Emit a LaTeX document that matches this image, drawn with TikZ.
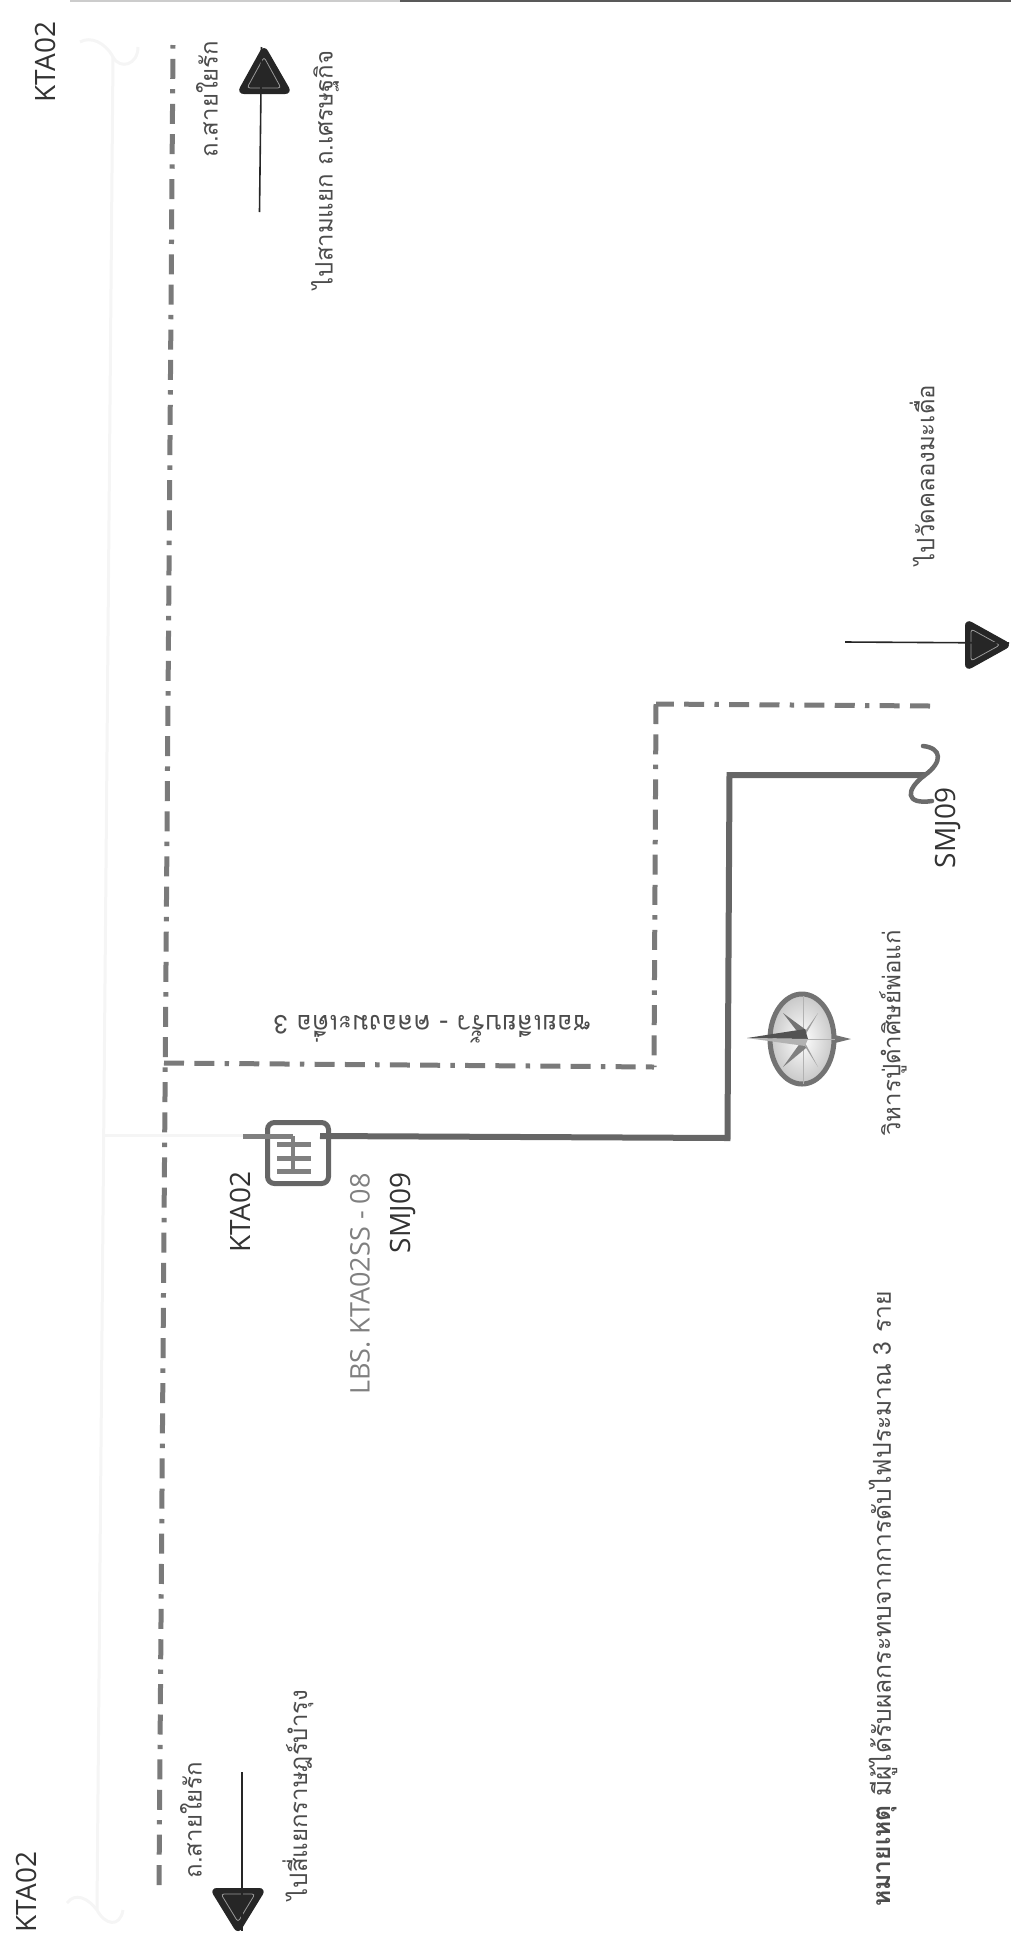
\documentclass[tikz,border=0pt]{standalone}
\usepackage{fontspec}
\setmainfont{Open Sans}
\newfontfamily\thaifont[Script=Thai]{Loma}
\tikzset{x=1pt,y=-1pt,
 lbl/.style={inner sep=0pt,rotate=90,font=\fontsize{28}{30}\selectfont,text=black!80},
 thlbl/.style={inner sep=0pt,rotate=90,font=\thaifont\fontsize{24}{28}\selectfont,text=black!70},
 road/.style={draw=black!52,line width=5pt,dash pattern=on 20pt off 10.3pt on 20pt off 10.3pt on 4.4pt off 10.26pt},
 feeder/.style={draw=black!60,line width=6pt},
 ghost/.style={draw=black!4,line width=3pt},
 dirline/.style={draw=black!85,line width=1.6pt},
 dirtip/.style={fill=black!85,draw=black!85,line width=2pt,rounded corners=6pt},
 dirin/.style={draw=black!40,line width=.8pt,rounded corners=3pt}}
\begin{document}
\begin{tikzpicture}
\useasboundingbox (0,0) rectangle (1011,1947);
\draw[black!20,line width=1.5pt] (70,1) -- (400,1);
\draw[black!65,line width=2pt] (400,1) -- (1011,1);
% ghost line
\coordinate (gt) at (113,57);
\coordinate (gb) at (97,1910);
\coordinate (gj) at (104,1135);
\coordinate (swL) at (243,1135);
\draw[ghost] (gt) -- (gb);
\draw[ghost] (gj) -- (swL);
\draw[ghost] (80,42) .. controls (90,36) and (105,42) .. (gt) .. controls (120,70) and (138,65) .. (138,47);
\draw[ghost] (67,1903) .. controls (75,1892) and (88,1898) .. (gb) .. controls (105,1925) and (120,1928) .. (123,1910);
% roads
\coordinate (rt) at (173,45);
\coordinate (rb) at (159,1885);
\coordinate (rj) at (164,1063);
\coordinate (ra) at (654,1067);
\coordinate (rc) at (656,704);
\coordinate (re) at (930,706);
\draw[road] (rb) -- (rt);
\draw[road] (re) -- (rc);
\draw[road] (rc) -- (ra);
\draw[road] (rj) -- (ra);
% feeder
\node[draw=black!60,line width=5pt,rounded corners=7pt,minimum size=61pt,inner sep=0pt] (lbs) at (298,1153) {};
\coordinate (fA) at (243,1136);
\coordinate (fB) at (293,1136);
\coordinate (fBe) at (293,1173);
\coordinate (fS) at (320,1136);
\coordinate (fC) at (727.5,1138);
\coordinate (fD) at (729.5,775);
\coordinate (fE) at (925,775);
\draw[draw=black!50,line width=5pt] (fA) -- (fB);
\draw[draw=black!50,line width=4pt] (fB) -- (fBe);
\draw[feeder] (fS) -- (fC) -- (fD) -- (fE);
\draw[draw=black!50,line width=5pt] (277,1144) -- (311,1144);
\draw[draw=black!50,line width=5pt] (277,1158) -- (311,1158);
\draw[draw=black!50,line width=5pt] (277,1171) -- (311,1171);
\draw[black!58,line width=4.5pt,line cap=round] (923,746) .. controls (942,748) and (943,762) .. (fE) .. controls (905,790) and (905,805) .. (932,801);
% direction arrows
\coordinate (a1s) at (259.5,212);
\coordinate (a1e) at (261.5,47);
\draw[dirtip] (264,46) -- (291,93) -- (238,93) -- cycle;
\draw[dirin] (264,57) -- (281,88) -- (247,88) -- cycle;
\draw[dirline] (a1s) -- (a1e);
\coordinate (a2s) at (242,1772);
\coordinate (a2e) at (242,1931);
\draw[dirtip] (238,1933) -- (211,1889) -- (265,1889) -- cycle;
\draw[dirin] (238,1922) -- (221,1894) -- (255,1894) -- cycle;
\draw[dirline] (a2s) -- (a2e);
\coordinate (a3s) at (845,642);
\coordinate (a3e) at (1009,643);
\draw[dirtip] (1011,645) -- (966,620) -- (966,670) -- cycle;
\draw[dirin] (1000,645) -- (971,629) -- (971,661) -- cycle;
\draw[dirline] (a3s) -- (a3e);
% compass
\draw[black!55,line width=5pt,inner color=white,outer color=black!22] (802,1039) ellipse (32pt and 45pt);
\draw[black!30,line width=.5pt] (770,1039) -- (835,1039) (803,996) -- (803,1084);
\fill[black!55] (851,1039) -- (835,1035) -- (835,1043) -- cycle;
\fill[black!55] (783,1013) -- (806,1030) -- (803,1039) -- cycle;
\fill[black!38] (818,1013) -- (806,1030) -- (803,1039) -- cycle;
\fill[black!50] (783,1067) -- (806,1048) -- (803,1039) -- cycle;
\fill[black!38] (818,1067) -- (806,1048) -- (803,1039) -- cycle;
\fill[black!68] (747,1038) -- (805,1029) -- (808,1039) -- cycle;
\fill[black!30] (747,1038) -- (808,1039) -- (805,1046) -- cycle;
% labels
\node[lbl] (k1) at (45,62) {KTA02};
\node[lbl] (k2) at (26,1892) {KTA02};
\node[lbl] (k3) at (240,1212) {KTA02};
\node[lbl,text=black!50,font=\fontsize{27}{30}\selectfont] (l1) at (360,1284) {LBS. KTA02SS - 08};
\node[lbl] (s1) at (403,1213) {SMJ09};
\node[lbl] (s2) at (948,828) {SMJ09};
\node[thlbl] (t1) at (207,99) {ถ.สายใยรัก};
\node[thlbl] (t2) at (325,170) {ไปสามแยก ถ.เศรษฐกิจ};
\node[thlbl] (t3) at (191,1820) {ถ.สายใยรัก};
\node[thlbl] (t4) at (298,1795) {ไปสี่แยกราษฎร์บำรุง};
\node[thlbl] (t5) at (922,475) {ไปวัดคลองมะเดื่อ};
\node[thlbl] (t6) at (893,1033) {วิหารปู่ดำศิษย์พ่อแก่};
\node[thlbl,anchor=west,font=\thaifont\fontsize{24.7}{28}\selectfont] (t7) at (883,1907) {\textbf{หมายเหตุ} มีผู้ได้รับผลกระทบจากการดับไฟประมาณ 3 ราย};
\node[thlbl,rotate=90,font=\thaifont\fontsize{26}{30}\selectfont] (t8) at (432,1029) {ซอยเลียบรั้ว - คลองมะเดื่อ 3};
\end{tikzpicture}
\end{document}
